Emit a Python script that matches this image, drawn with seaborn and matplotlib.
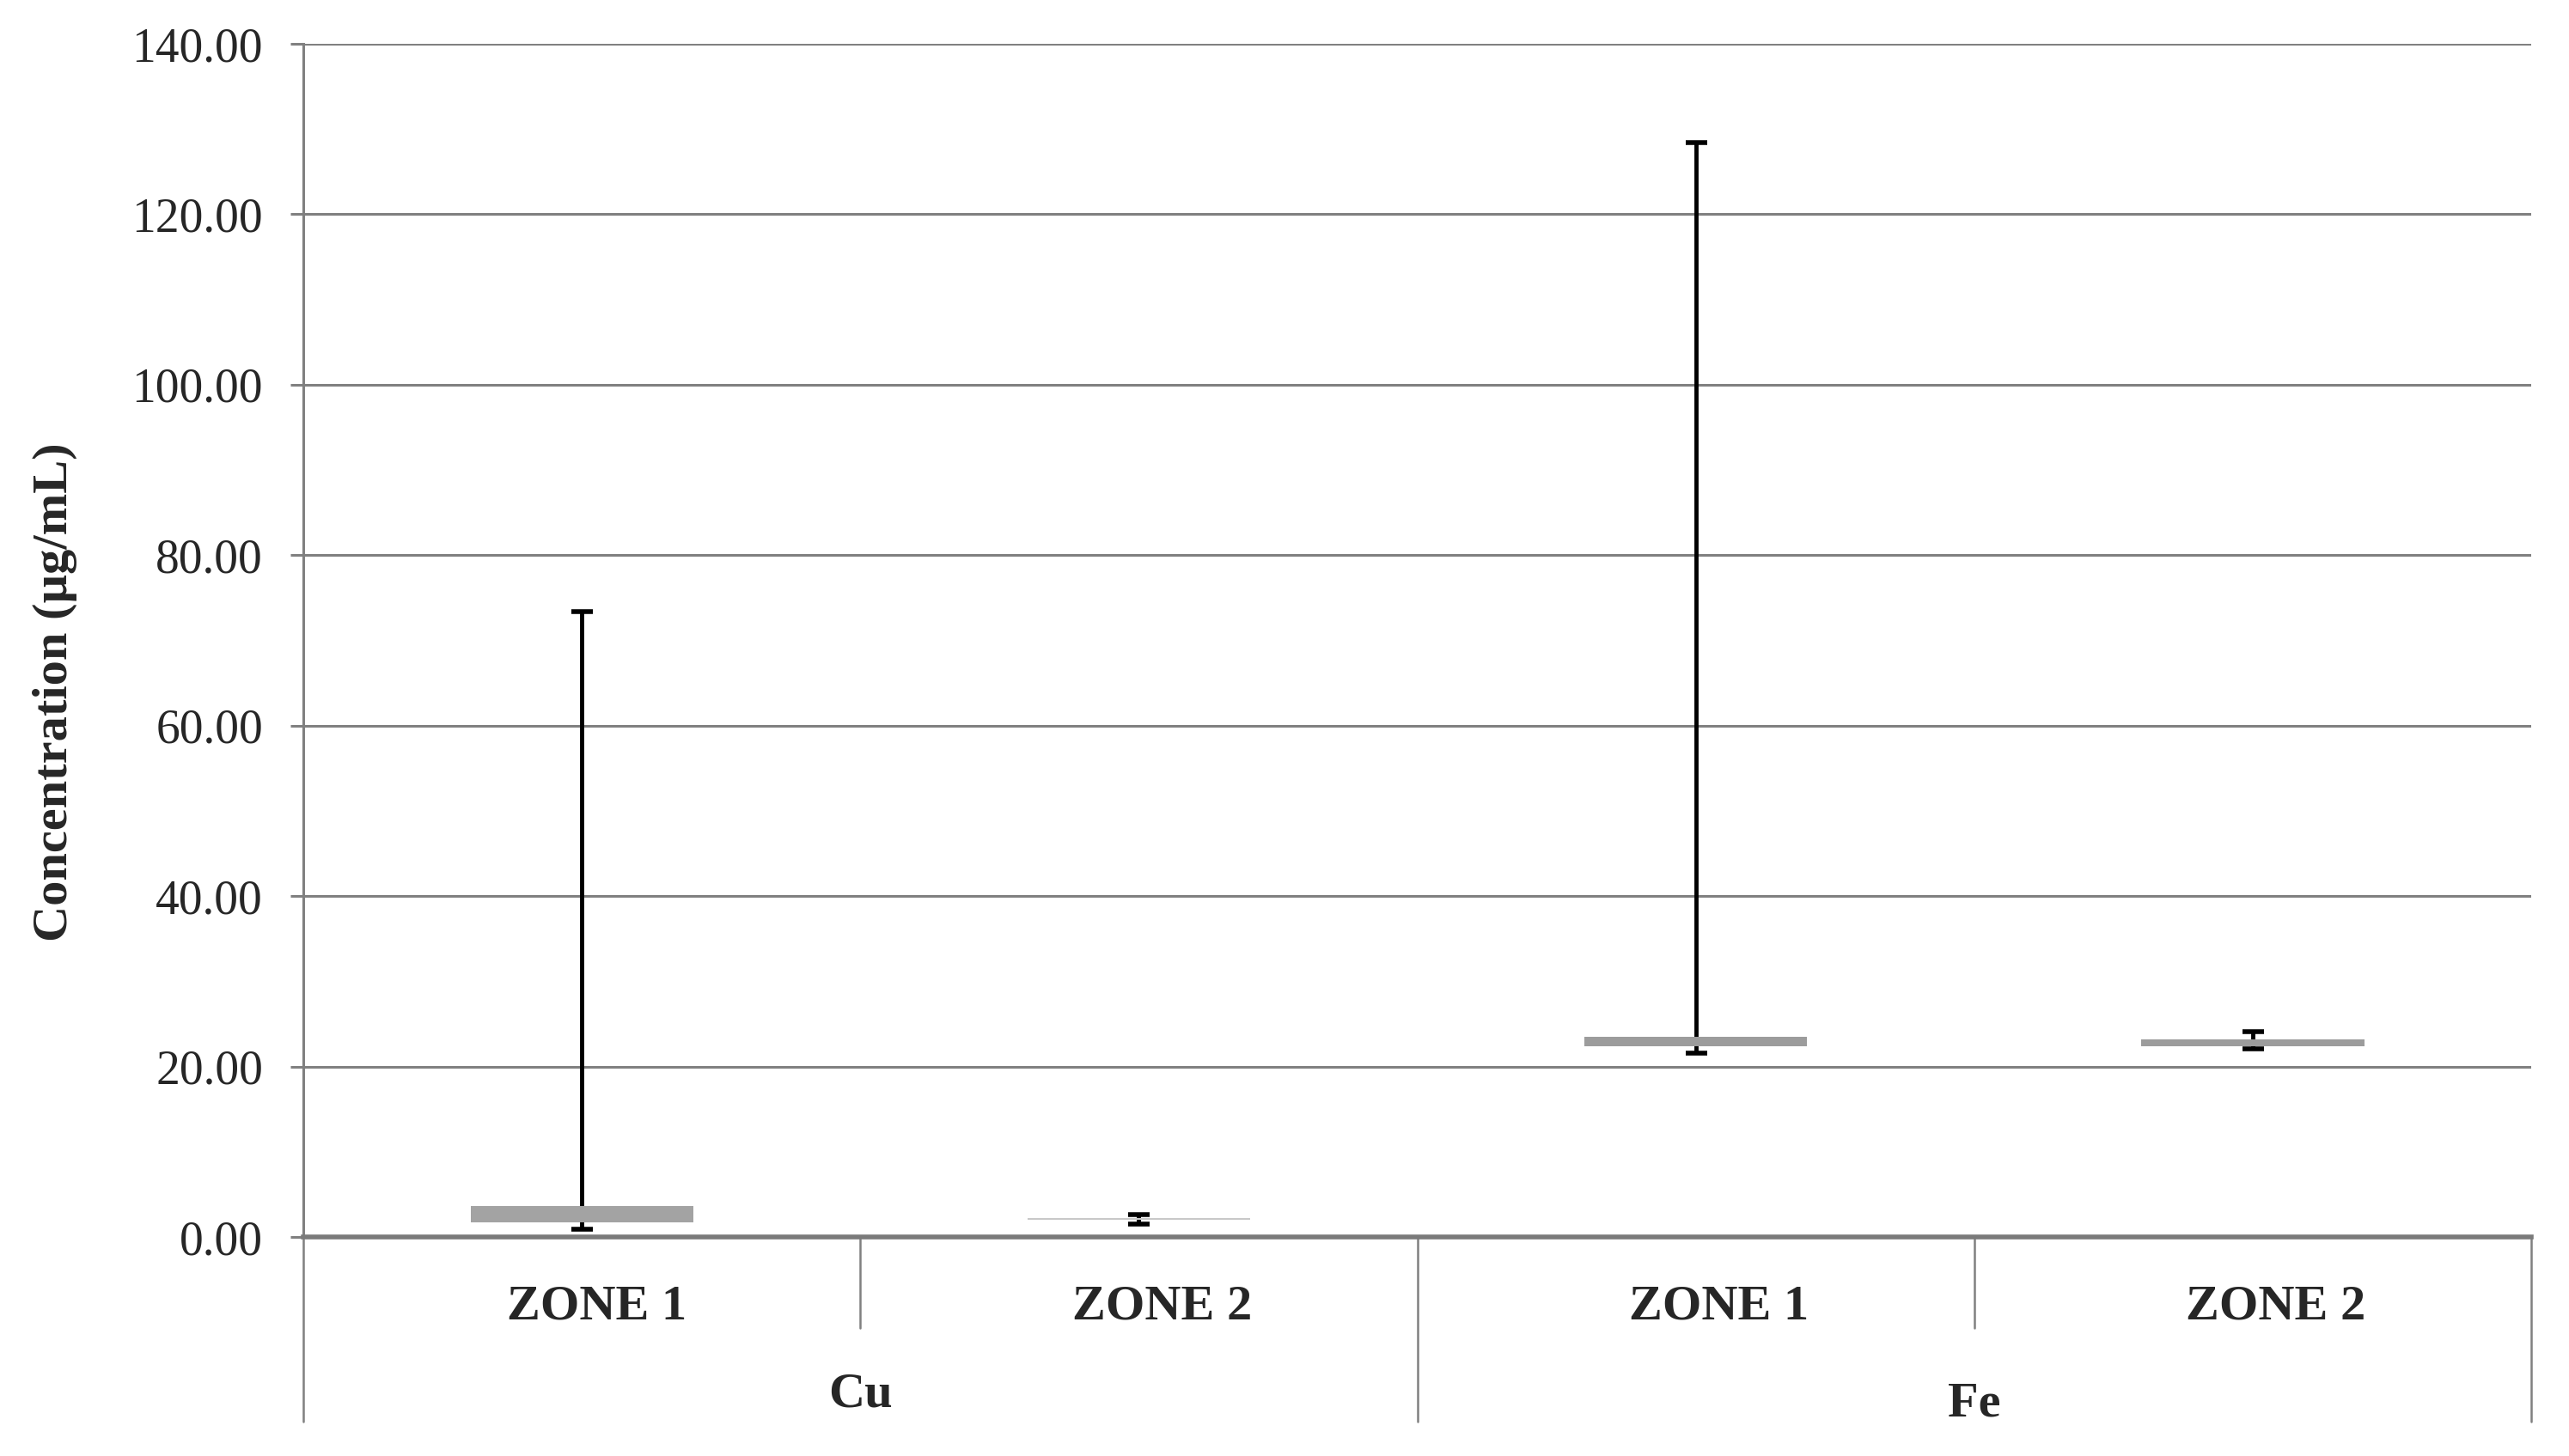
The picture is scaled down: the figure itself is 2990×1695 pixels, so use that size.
import matplotlib
matplotlib.use("Agg")

import numpy as np
import seaborn as sns
import matplotlib.pyplot as plt
import matplotlib.ticker as ticker
import matplotlib.transforms as mtransforms

# ===============================
# data
# ===============================
zones = ["ZONE 1", "ZONE 2", "ZONE 1", "ZONE 2"]
elements = ["Cu", "Fe"]
q1 = [1.75, 2.0, 22.4, 22.4]
q3 = [3.6, 2.2, 23.5, 23.2]
whisker_low = [0.9, 1.5, 21.6, 22.1]
whisker_high = [73.4, 2.6, 128.4, 24.1]
yticks = [0, 20, 40, 60, 80, 100, 120, 140]

box_colors = ['#a3a3a3', '#c8c8c8', '#9c9c9c', '#9c9c9c']

sns.set_style("white")
plt.rcParams['font.family'] = ['Liberation Serif', 'DejaVu Serif']

fig = plt.figure(figsize=(29.9, 16.95), dpi=100)
ax = fig.add_axes([0.1181, 0.1504, 0.8672, 0.8195])

pos = np.arange(len(zones))
q1 = np.array(q1)
q3 = np.array(q3)
lo = q1 - np.array(whisker_low)
hi = np.array(whisker_high) - q1

# whiskers (drawn under the boxes)
ax.errorbar(pos, q1, yerr=[lo, hi], fmt='none', ecolor='black',
            elinewidth=3.5, capsize=9, capthick=4, zorder=3)

# boxes
ax.bar(pos, q3 - q1, bottom=q1, width=0.40, color=box_colors,
       edgecolor='none', zorder=4)

ax.set_xlim(-0.5, 3.5)
ax.set_ylim(0, 140)
ax.set_yticks(yticks)
ax.yaxis.set_major_formatter(ticker.FormatStrFormatter('%.2f'))
ax.tick_params(axis='y', labelsize=40, length=11, width=2.2,
               color='#808080', pad=23, left=True)

ax.set_xticks(pos)
ax.set_xticklabels(zones, fontsize=42, fontweight='bold')
ax.tick_params(axis='x', length=0, pad=40)
# labels sit a little right of the category centre, as in the original
for lab, dx in zip(ax.get_xticklabels(), [17, 27, 27, 27]):
    lab.set_transform(lab.get_transform() +
                      mtransforms.ScaledTranslation(dx / 100, 0, fig.dpi_scale_trans))

ax.yaxis.grid(True, color='#808080', linewidth=2.2, zorder=0)
ax.set_axisbelow(True)

for side in ['top', 'right']:
    ax.spines[side].set_visible(False)
ax.spines['left'].set_color('#808080')
ax.spines['left'].set_linewidth(2.2)
ax.spines['bottom'].set_color('#7a7a7a')
ax.spines['bottom'].set_linewidth(4)
ax.spines['bottom'].set_zorder(5)

# category dividers under the axis
trans = ax.get_xaxis_transform()
for x, depth in [(-0.5, 0.155), (0.5, 0.076), (1.5, 0.155), (2.5, 0.076), (3.5, 0.155)]:
    ax.plot([x, x], [0, -depth], transform=trans, color='#808080',
            linewidth=1.8, clip_on=False)

# element group labels
ax.text(0.5, -0.132, elements[0], transform=trans, ha='center', va='center',
        fontsize=42, fontweight='bold')
ax.text(2.5, -0.140, elements[1], transform=trans, ha='center', va='center',
        fontsize=42, fontweight='bold')

fig.text(0.0214, 0.5245, 'Concentration (µg/mL)', rotation=90,
         ha='center', va='center', fontsize=42, fontweight='bold')

plt.savefig('out.png', dpi=100)
plt.close()
